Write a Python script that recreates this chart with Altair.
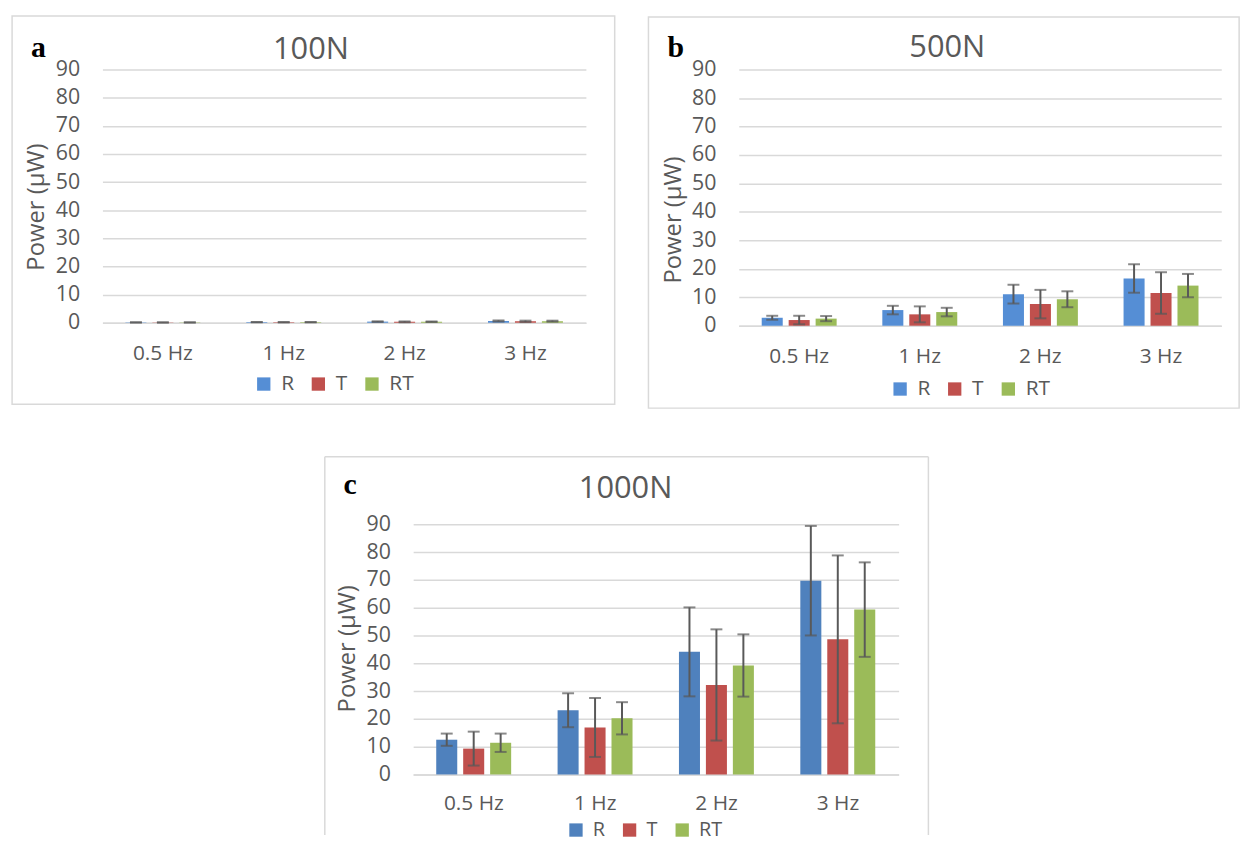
import altair as alt
import pandas as pd

FREQS = ["0.5 Hz", "1 Hz", "2 Hz", "3 Hz"]
SERIES = ["R", "T", "RT"]

# Panel a: 100N (mean, error)
A_R = [0.12, 0.22, 0.40, 0.62]
A_R_ERR = [0.03, 0.06, 0.12, 0.20]
A_T = [0.10, 0.18, 0.32, 0.50]
A_T_ERR = [0.04, 0.08, 0.15, 0.25]
A_RT = [0.11, 0.20, 0.36, 0.56]
A_RT_ERR = [0.03, 0.06, 0.10, 0.18]

# Panel b: 500N
B_R = [2.8, 5.5, 11.1, 16.6]
B_R_ERR = [0.7, 1.5, 3.3, 5.0]
B_T = [2.0, 4.0, 7.6, 11.5]
B_T_ERR = [1.5, 2.8, 5.0, 7.3]
B_RT = [2.5, 4.8, 9.3, 14.1]
B_RT_ERR = [0.9, 1.5, 2.8, 4.1]

# Panel c: 1000N
C_R = [12.5, 23.1, 44.1, 69.7]
C_R_ERR = [2.2, 6.1, 16.0, 19.7]
C_T = [9.3, 16.9, 32.2, 48.6]
C_T_ERR = [6.1, 10.6, 20.0, 30.2]
C_RT = [11.4, 20.2, 39.2, 59.3]
C_RT_ERR = [3.3, 5.8, 11.2, 17.0]

COLORS_AB = ["#558ED5", "#C0504D", "#9BBB59"]
COLORS_C = ["#4F81BD", "#C0504D", "#9BBB59"]

FONT = "Open Sans"
GRAY = "#595959"
GRID = "#D9D9D9"
ERRC = "#595959"


def make_df(means, errs):
    rows = []
    for s, vals, es in zip(SERIES, means, errs):
        for f, v, e in zip(FREQS, vals, es):
            rows.append({"freq": f, "series": s, "mean": v,
                         "lo": max(v - e, 0), "hi": v + e})
    return pd.DataFrame(rows)


ONE = pd.DataFrame({"k": [0]})


def panel(df, letter, title, colors, W, H, border, letter_pos, title_pos,
          legend_pos, ytitle_pos, open_bottom=False, left_pad=None,
          xlabel_pad=20, legend_font=21):
    xaxis = alt.Axis(title=None, labelAngle=0, labelFontSize=21, labelFont=FONT,
                     labelColor=GRAY, labelPadding=xlabel_pad, ticks=False,
                     domainColor=GRID, domainWidth=1.5, grid=False)
    xscale = alt.Scale(paddingInner=0.38, paddingOuter=0.19)
    yaxis = alt.Axis(title="Power (μW)", values=list(range(0, 91, 10)),
                     labelFontSize=21.5, labelFont=FONT, labelColor=GRAY,
                     labelPadding=23, ticks=False, domain=False,
                     gridColor=GRID, gridWidth=1.5,
                     titleFont=FONT, titleFontSize=24, titleColor=GRAY,
                     titleFontWeight="normal", titleAngle=-90,
                     titleX=ytitle_pos[0], titleY=ytitle_pos[1],
                     titleAlign="center", titleBaseline="middle")
    yscale = alt.Scale(domain=[0, 90], nice=False)
    X = alt.X("freq:N", sort=FREQS, scale=xscale, axis=xaxis)
    XO = alt.XOffset("series:N", sort=SERIES,
                     scale=alt.Scale(paddingInner=0.22, paddingOuter=0))

    bars = alt.Chart(df).mark_bar().encode(
        x=X, xOffset=XO,
        y=alt.Y("mean:Q", scale=yscale, axis=yaxis),
        color=alt.Color("series:N", sort=SERIES,
                        scale=alt.Scale(domain=SERIES, range=colors),
                        legend=alt.Legend(orient="none", legendX=legend_pos[0],
                                          legendY=legend_pos[1],
                                          direction="horizontal", title=None,
                                          symbolType="square", symbolSize=180,
                                          symbolStrokeWidth=0,
                                          labelFontSize=legend_font,
                                          labelFont=FONT, labelColor=GRAY,
                                          labelOffset=7, columnPadding=14)),
    )
    rule = alt.Chart(df).mark_rule(color=ERRC, strokeWidth=2).encode(
        x=X, xOffset=XO, y=alt.Y("lo:Q", scale=yscale, axis=yaxis), y2="hi:Q")
    cap_lo = alt.Chart(df).mark_tick(color=ERRC, thickness=2, size=12).encode(
        x=X, xOffset=XO, y=alt.Y("lo:Q", scale=yscale, axis=yaxis))
    cap_hi = alt.Chart(df).mark_tick(color=ERRC, thickness=2, size=12).encode(
        x=X, xOffset=XO, y=alt.Y("hi:Q", scale=yscale, axis=yaxis))

    layers = [bars, rule, cap_lo, cap_hi]
    bx0, by0, bx1, by1 = border
    if open_bottom:
        layers.append(alt.Chart(ONE).mark_rule(color=GRID, strokeWidth=1.5).encode(
            x=alt.value(bx0), x2=alt.value(bx1), y=alt.value(by0)))
        layers.append(alt.Chart(ONE).mark_rule(color=GRID, strokeWidth=1.5).encode(
            x=alt.value(bx0), y=alt.value(by0), y2=alt.value(by1)))
        layers.append(alt.Chart(ONE).mark_rule(color=GRID, strokeWidth=1.5).encode(
            x=alt.value(bx1), y=alt.value(by0), y2=alt.value(by1)))
    else:
        layers.append(alt.Chart(ONE).mark_rect(filled=False, stroke=GRID,
                                               strokeWidth=1.5).encode(
            x=alt.value(bx0), x2=alt.value(bx1), y=alt.value(by0), y2=alt.value(by1)))
    if left_pad is not None:
        # white spacer (invisible on white) used only to shift centring
        layers.append(alt.Chart(ONE).mark_rect(color="white").encode(
            x=alt.value(left_pad), x2=alt.value(left_pad + 1),
            y=alt.value(by0), y2=alt.value(by0 + 1)))
    layers.append(alt.Chart(ONE).mark_text(text=letter, font="Liberation Serif",
                                           fontWeight="bold", fontSize=30,
                                           color="black", align="center",
                                           baseline="alphabetic").encode(
        x=alt.value(letter_pos[0]), y=alt.value(letter_pos[1])))
    layers.append(alt.Chart(ONE).mark_text(text=title, font=FONT, fontSize=31,
                                           color=GRAY, align="center",
                                           baseline="alphabetic").encode(
        x=alt.value(title_pos[0]), y=alt.value(title_pos[1])))
    return alt.layer(*layers).properties(width=W, height=H)


df_a = make_df([A_R, A_T, A_RT], [A_R_ERR, A_T_ERR, A_RT_ERR])
df_b = make_df([B_R, B_T, B_RT], [B_R_ERR, B_T_ERR, B_RT_ERR])
df_c = make_df([C_R, C_T, C_RT], [C_R_ERR, C_T_ERR, C_RT_ERR])

pa = panel(df_a, "a", "100N", COLORS_AB, 487, 255, (-91, -54, 516, 337),
           (-64.5, -13), (210, -11), (152, 306), (-66, 138))
pb = panel(df_b, "b", "500N", COLORS_AB, 486, 258, (-91, -53, 504, 341),
           (-63.5, -13), (210, -13), (152, 311), (-66, 151))
pc = panel(df_c, "c", "1000N", COLORS_C, 489, 252, (-89, -68, 519, 313),
           (-63.5, -30), (214, -26), (154, 298), (-66, 125), open_bottom=True,
           left_pad=-102, xlabel_pad=18, legend_font=20)

top = alt.hconcat(pa, pb, spacing=32).resolve_scale(
    color="independent", x="independent", y="independent").resolve_legend(
    color="independent")
chart = alt.vconcat(top, pc, spacing=47, center=True).resolve_scale(
    color="independent", x="independent", y="independent").resolve_legend(
    color="independent").properties(
    padding={"left": 3, "top": 4, "right": 0, "bottom": 0},
    background="white",
).configure_view(stroke=None)

chart.save("out.html", embed_options={"renderer": "svg", "actions": False})
